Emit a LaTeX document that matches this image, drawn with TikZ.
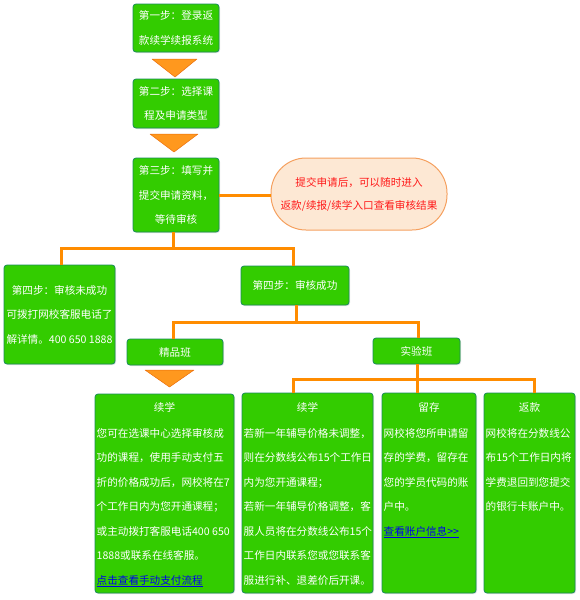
\documentclass[tikz,border=0pt]{standalone}
\usepackage{fontspec}
\setmainfont{Noto Sans CJK SC}
\usetikzlibrary{shadows}
\definecolor{gfill}{RGB}{51,204,0}
\definecolor{gborder}{RGB}{24,140,90}
\definecolor{oline}{RGB}{255,140,0}
\definecolor{trifill}{RGB}{255,152,30}
\definecolor{tridraw}{RGB}{235,110,10}
\definecolor{bubfill}{RGB}{253,232,212}
\definecolor{bubdraw}{RGB}{245,160,95}
\definecolor{redtxt}{RGB}{255,25,25}
\definecolor{linkblue}{RGB}{0,0,235}
\newcommand\fsz{\fontsize{10.6}{24.5}\selectfont}
\newcommand\lnk[1]{\textcolor{linkblue}{\underline{#1}}}
\begin{document}
\begin{tikzpicture}[x=1pt,y=-1pt,
  gbox/.style={draw=gborder, fill=gfill, line width=0.8pt, rounded corners=3pt,
    text=white, inner sep=0pt, font=\fsz, align=center,
    drop shadow={shadow xshift=1pt, shadow yshift=-1pt, fill=black!20, opacity=0.6}},
  wtxt/.style={text=white, inner sep=0pt, font=\fsz},
  conn/.style={draw=oline, line width=3pt},
  tristyle/.style={fill=trifill, draw=tridraw, line width=0.5pt, line join=round},
  bubble/.style={draw=bubdraw, fill=bubfill, line width=1pt, rounded corners=35pt,
    text=redtxt, inner sep=0pt, align=center, font=\fontsize{10.6}{23}\selectfont}]
\useasboundingbox (0,0) rectangle (580,600);

% main steps
\node[gbox, minimum width=86, minimum height=48] (s1) at (176,28) {第一步：登录返\\款续学续报系统};
\node[gbox, minimum width=86, minimum height=49] (s2) at (176,103.5) {第二步：选择课\\程及申请类型};
\node[gbox, minimum width=86, minimum height=74] (s3) at (176,195) {第三步：填写并\\提交申请资料，\\等待审核};
\node[bubble, minimum width=176, minimum height=72] (bub) at (359,194) {提交申请后，可以随时进入\\返款/续报/续学入口查看审核结果};

\node[gbox, minimum width=111, minimum height=99] (f4) at (59.5,314.5) {第四步：审核未成功\\可拨打网校客服电话了\\解详情。400 650 1888};
\node[gbox, minimum width=108, minimum height=39] (ok4) at (295,285.5) {第四步：审核成功};

\node[gbox, minimum width=96, minimum height=26] (jp) at (175,352) {精品班};
\node[gbox, minimum width=87, minimum height=26] (sy) at (416.5,351) {实验班};

% result boxes
\node[gbox, minimum width=139, minimum height=199] (x1) at (164.5,493.5) {};
\node[gbox, minimum width=131, minimum height=200] (x2) at (307.5,493) {};
\node[gbox, minimum width=94, minimum height=200] (lc) at (429,493) {};
\node[gbox, minimum width=91, minimum height=200] (fk) at (529.5,493) {};

\node[wtxt] (x1t) at (x1.center |- 0,407) {续学};
\node[wtxt, anchor=north west, align=left] (x1b) at (96.5,428) {您可在选课中心选择审核成\\功的课程，使用手动支付五\\折的价格成功后，网校将在7\\个工作日内为您开通课程；\\或主动拨打客服电话400 650\\1888或联系在线客服。\\\lnk{点击查看手动支付流程}};

\node[wtxt] (x2t) at (x2.center |- 0,407) {续学};
\node[wtxt, anchor=north west, align=left] (x2b) at (243.5,428) {若新一年辅导价格未调整，\\则在分数线公布15个工作日\\内为您开通课程；\\若新一年辅导价格调整，客\\服人员将在分数线公布15个\\工作日内联系您或您联系客\\服进行补、退差价后开课。};

\node[wtxt] (lct) at (lc.center |- 0,407) {留存};
\node[wtxt, anchor=north west, align=left] (lcb) at (383.5,428) {网校将您所申请留\\存的学费，留存在\\您的学员代码的账\\户中。\\\lnk{查看账户信息>{}>}};

\node[wtxt] (fkt) at (fk.center |- 0,407) {返款};
\node[wtxt, anchor=north west, align=left] (fkb) at (485.5,428) {网校将在分数线公\\布15个工作日内将\\学费退回到您提交\\的银行卡账户中。};

% arrows (triangles)
\filldraw[tristyle] (152,59) -- (197,59) -- (175,77) -- cycle;
\filldraw[tristyle] (150,134) -- (198,134) -- (174,152) -- cycle;
\filldraw[tristyle] (145,370) -- (194,370) -- (169.5,387) -- cycle;

% connectors
\draw[conn] (s3.east) -- (s3.east -| bub.west);
\coordinate (t1m) at (173,248);
\coordinate (t1l) at (61,248);
\coordinate (t1r) at (293,248);
\draw[conn] (t1m |- s3.south) -- (t1m);
\draw[conn] (t1l |- f4.north) -- (t1l) -- (t1r) -- (t1r |- ok4.north);
\coordinate (t2m) at (296,322);
\coordinate (t2l) at (173,322);
\coordinate (t2r) at (418,322);
\draw[conn] (t2m |- ok4.south) -- (t2m);
\draw[conn] (t2l |- jp.north) -- (t2l) -- (t2r) -- (t2r |- sy.north);
\coordinate (t3m) at (417,379);
\coordinate (t3l) at (293,379);
\coordinate (t3r) at (534,379);
\draw[conn] (t3m |- sy.south) -- (t3m |- lc.north);
\draw[conn] (t3l |- x2.north) -- (t3l) -- (t3r) -- (t3r |- fk.north);
\end{tikzpicture}
\end{document}
